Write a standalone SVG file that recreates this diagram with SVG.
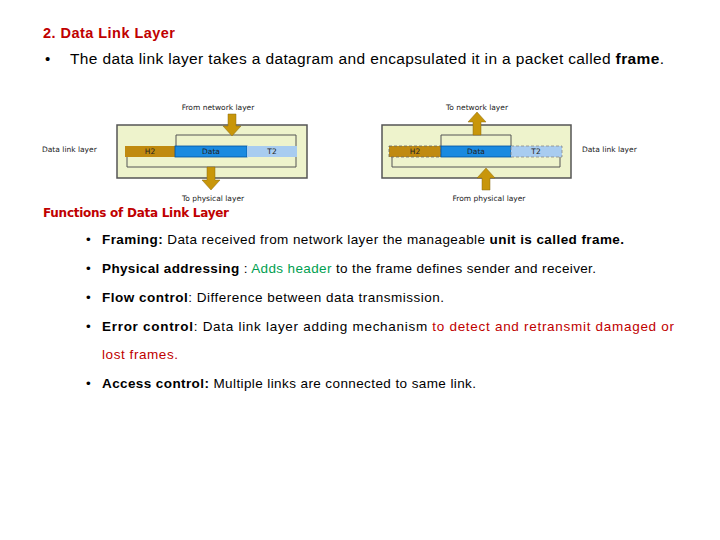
<svg xmlns="http://www.w3.org/2000/svg" width="720" height="540" viewBox="0 0 720 540">
<style>
.t{font-family:"Liberation Sans",Arial,sans-serif;font-size:13.5px;fill:#000}
.b{font-weight:bold}
.red{fill:#c00000}
.grn{fill:#00a050}
.s{font-family:"DejaVu Sans",Arial,sans-serif;font-size:7.5px;fill:#222}
.box{fill:#eef3cc;stroke:#555;stroke-width:1.5}
.br{fill:none;stroke:#555;stroke-width:1}
.arr{fill:#c8960a;stroke:#8a6a10;stroke-width:0.5}
</style>
<rect width="720" height="540" fill="#fff"/>
<text x="43" y="38" class="t b red" style="font-size:14.5px" textLength="132">2. Data Link Layer</text>
<text x="45" y="64" class="t" style="font-size:15px">•</text>
<text x="70" y="64" class="t" style="font-size:15.5px" textLength="594">The data link layer takes a datagram and encapsulated it in a packet called <tspan class="b">frame</tspan>.</text>

<g id="left">
<rect class="box" x="117" y="125" width="190" height="53"/>
<polyline class="br" points="176,146 176,135 296,135 296,146"/>
<polyline class="br" points="127,157 127,167 296,167 296,157"/>
<rect x="125" y="146" width="50" height="11" fill="#c08a10"/>
<rect x="175" y="146" width="72" height="11" fill="#1a8ae0" stroke="#0050a0" stroke-width="0.8"/>
<rect x="247" y="146" width="50" height="11" fill="#a8ccf0"/>
<text class="s" x="150" y="154" text-anchor="middle">H2</text>
<text class="s" x="211" y="154" text-anchor="middle">Data</text>
<text class="s" x="272" y="154" text-anchor="middle">T2</text>
<polygon class="arr" points="228,114 236,114 236,126 241,126 232,136 223,126 228,126"/>
<polygon class="arr" points="207,167 215,167 215,180 220,180 211,190 202,180 207,180"/>
<text class="s" x="218" y="110" text-anchor="middle">From network layer</text>
<text class="s" x="213" y="201" text-anchor="middle">To physical layer</text>
<text class="s" x="42" y="152">Data link layer</text>
</g>

<g id="right">
<rect class="box" x="382" y="125" width="189" height="53"/>
<polyline class="br" points="441,146 441,135 511,135 511,146"/>
<polyline class="br" points="392,157 392,167 560,167 560,157"/>
<rect x="389" y="146" width="52" height="11" fill="#c08a10" stroke="#666" stroke-width="0.8" stroke-dasharray="3,2"/>
<rect x="441" y="146" width="70" height="11" fill="#1a8ae0" stroke="#0050a0" stroke-width="0.8"/>
<rect x="511" y="146" width="51" height="11" fill="#a8ccf0" stroke="#888" stroke-width="0.8" stroke-dasharray="3,2"/>
<text class="s" x="415" y="154" text-anchor="middle">H2</text>
<text class="s" x="476" y="154" text-anchor="middle">Data</text>
<text class="s" x="536" y="154" text-anchor="middle">T2</text>
<polygon class="arr" points="473,135 481,135 481,122 486,122 477,112 468,122 473,122"/>
<polygon class="arr" points="482,190 490,190 490,178 495,178 486,168 477,178 482,178"/>
<text class="s" x="477" y="110" text-anchor="middle">To network layer</text>
<text class="s" x="489" y="201" text-anchor="middle">From physical layer</text>
<text class="s" x="582" y="152">Data link layer</text>
</g>

<text x="43" y="217" style="font-family:'DejaVu Sans',sans-serif;font-size:12px;font-weight:bold;fill:#c00000" textLength="186">Functions of Data Link Layer</text>

<g class="t">
<text x="86" y="244" class="t">•</text>
<text x="102" y="244" class="t" textLength="522"><tspan class="b">Framing:</tspan> Data received from network layer the manageable <tspan class="b">unit is called frame.</tspan></text>
<text x="86" y="273" class="t">•</text>
<text x="102" y="273" class="t" textLength="494"><tspan class="b">Physical addressing</tspan> : <tspan class="grn">Adds header</tspan> to the frame defines sender and receiver.</text>
<text x="86" y="302" class="t">•</text>
<text x="102" y="302" class="t" textLength="342"><tspan class="b">Flow control</tspan>: Difference between data transmission.</text>
<text x="86" y="331" class="t">•</text>
<text x="102" y="331" class="t" textLength="572"><tspan class="b">Error control</tspan>: Data link layer adding mechanism <tspan class="red">to detect and retransmit  damaged or</tspan></text>
<text x="102" y="359" class="t red" textLength="76">lost frames.</text>
<text x="86" y="388" class="t">•</text>
<text x="102" y="388" class="t" textLength="374"><tspan class="b">Access control:</tspan> Multiple links are connected to same link.</text>
</g>
</svg>
